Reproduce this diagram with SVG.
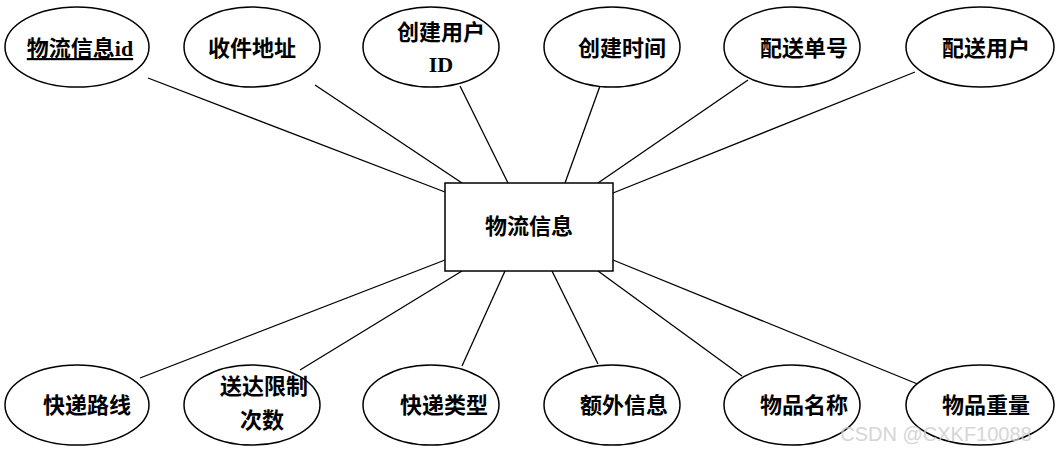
<svg xmlns="http://www.w3.org/2000/svg" width="1057" height="454" viewBox="0 0 1057 454">
<style>
ellipse,.box{fill:#fff;stroke:#000;stroke-width:1.5}
line{stroke:#000;stroke-width:1.3}
text{font-family:"Liberation Serif","Noto Sans CJK SC",serif;font-weight:bold;font-size:22px;text-anchor:middle;fill:#000}
</style>
<rect width="1057" height="454" fill="#fff"/>
<g id="connectors">
<line x1="148" y1="78" x2="445" y2="192"/>
<line x1="315" y1="85" x2="462" y2="183"/>
<line x1="460" y1="86" x2="508" y2="183"/>
<line x1="600" y1="86" x2="565" y2="183"/>
<line x1="748" y1="80" x2="598" y2="183"/>
<line x1="915" y1="72" x2="613" y2="193"/>
<line x1="140" y1="378" x2="445" y2="260"/>
<line x1="300" y1="370" x2="462" y2="271"/>
<line x1="462" y1="366" x2="505" y2="271"/>
<line x1="598" y1="364" x2="552" y2="271"/>
<line x1="742" y1="376" x2="598" y2="271"/>
<line x1="920" y1="385" x2="613" y2="260"/>
</g>
<g id="main"><rect class="box" x="445" y="183" width="168" height="88"/><text x="529" y="234">物流信息</text></g>
<g id="t1"><ellipse cx="77" cy="47" rx="72" ry="40"/><text x="80" y="56" text-decoration="underline">物流信息id</text></g>
<g id="t2"><ellipse cx="252" cy="47" rx="68" ry="40"/><text x="252" y="56">收件地址</text></g>
<g id="t3"><ellipse cx="431" cy="47" rx="68" ry="40"/><text x="441" y="40">创建用户</text><text x="441" y="72">ID</text></g>
<g id="t4"><ellipse cx="612" cy="47" rx="68" ry="40"/><text x="622" y="56">创建时间</text></g>
<g id="t5"><ellipse cx="792" cy="47" rx="68" ry="40"/><text x="804" y="56">配送单号</text></g>
<g id="t6"><ellipse cx="980" cy="47" rx="74" ry="40"/><text x="986" y="56">配送用户</text></g>
<g id="b1"><ellipse cx="77" cy="405" rx="72" ry="40"/><text x="87" y="413">快递路线</text></g>
<g id="b2"><ellipse cx="252" cy="405" rx="68" ry="40"/><text x="264" y="394">送达限制</text><text x="262" y="428">次数</text></g>
<g id="b3"><ellipse cx="431" cy="405" rx="68" ry="40"/><text x="444" y="413">快递类型</text></g>
<g id="b4"><ellipse cx="612" cy="405" rx="68" ry="40"/><text x="624" y="413">额外信息</text></g>
<g id="b5"><ellipse cx="792" cy="405" rx="68" ry="40"/><text x="804" y="413">物品名称</text></g>
<g id="b6"><ellipse cx="980" cy="405" rx="74" ry="40"/><text x="986" y="413">物品重量</text></g>
<text x="936" y="441" style="font-family:'Liberation Sans',sans-serif;font-weight:normal;font-size:20px;fill:#ccc;opacity:0.8">CSDN @CXKF10088</text>
</svg>
